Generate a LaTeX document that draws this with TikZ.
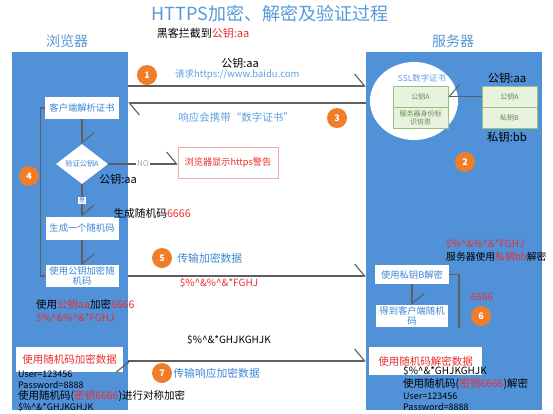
\documentclass[tikz,border=0pt]{standalone}
\usepackage{fontspec}
\setmainfont{Noto Sans CJK SC}
\usepackage{tikz}
\usetikzlibrary{arrows.meta, shapes.geometric, positioning, fit}
\usepackage{xcolor}
\definecolor{panelblue}{RGB}{80,145,215}
\definecolor{titleblue}{RGB}{88,152,214}
\definecolor{boxblue}{RGB}{60,135,210}
\definecolor{laneblue}{RGB}{95,160,220}
\definecolor{alert}{RGB}{235,45,45}
\definecolor{numorange}{RGB}{240,125,40}
\definecolor{linegray}{RGB}{95,95,95}
\definecolor{cellgreen}{RGB}{150,195,120}
\definecolor{cellfill}{RGB}{232,242,222}
\definecolor{celltext}{RGB}{95,140,85}
\definecolor{warnline}{RGB}{240,170,170}
\definecolor{nogray}{RGB}{140,175,205}
\newcommand\fsz[1]{\fontsize{#1}{#1}\selectfont}
\newcommand\cipherone{\$\%\textasciicircum\&\%\textasciicircum\&*FGHJ}
\newcommand\ciphertwo{\$\%\textasciicircum\&*GHJKGHJK}

\begin{document}
\begin{tikzpicture}[x=1pt, y=-1pt,
  panel/.style={fill=panelblue, inner sep=0pt},
  stepbox/.style={fill=white, text=boxblue, font=\fontsize{9.3}{10.5}\selectfont, align=center, inner sep=1pt},
  databox/.style={fill=white, text=alert, font=\fsz{10.5}, inner sep=1pt},
  keycell/.style={draw=cellgreen, fill=cellfill, text=celltext, font=\fontsize{7}{8}\selectfont, align=center, minimum width=55pt, minimum height=21pt, inner sep=0pt},
  num/.style={circle, fill=numorange, text=white, font=\bfseries\fsz{9}, minimum size=20pt, inner sep=0pt},
  link/.style={draw=linegray, line width=1.1pt, -{Straight Barb[harpoon, length=10pt, width=24pt]}},
  note/.style={font=\fsz{10.5}, inner sep=0pt},
  cipher/.style={font=\fsz{10}, text=alert, inner sep=0pt},
  lane/.style={font=\fsz{10.8}, text=boxblue, inner sep=0pt}
]
  \useasboundingbox (0,0) rectangle (553,413);

  \node[font=\fsz{18}, text=titleblue] (title) at (270,14) {HTTPS加密、解密及验证过程};
  \node[font=\fsz{11}] (hacker) at (203,33) {黑客拦截到\textcolor{alert}{公钥:aa}};
  \node[font=\fsz{14}, text=titleblue] (bhead) at (67,41) {浏览器};
  \node[font=\fsz{14}, text=titleblue] (shead) at (453,41) {服务器};

  \node[panel, fit={(12,52) (128,410)}] (browser) {};
  \node[panel, fit={(366,52) (542,410)}] (server) {};

  \node[stepbox, minimum width=74pt, minimum height=22pt] (parse) at (82,108) {客户端解析证书};
  \node[diamond, fill=white, text=boxblue, font=\fsz{7.2}, minimum width=52pt, minimum height=38pt, inner sep=0pt] (verify) at (82,164) {验证公钥A};
  \node[stepbox, minimum width=73pt, minimum height=23pt] (genkey) at (82,228) {生成一个随机码};
  \node[stepbox, minimum width=73pt, minimum height=21pt] (encrypt) at (82,276) {使用公钥加密随\\机码};
  \node[num] (n4) at (29,176) {4};
  \node[draw=warnline, fill=white, text=alert, font=\fsz{9.2}, minimum width=100pt, minimum height=31pt] (warn) at (228,162.5) {浏览器显示https警告};
  \node[font=\fsz{11}] (midpub) at (118,179) {公钥:aa};
  \node[font=\fsz{10.7}, anchor=west] (genval) at (110,213) {生成随机码\textcolor{alert}{6666}};
  \node[note, anchor=west] (encnote) at (36,304) {使用\textcolor{alert}{公钥aa}加密\textcolor{alert}{6666}};
  \node[cipher, anchor=west] (enccipher) at (36,318) {\cipherone};
  \node[databox, minimum width=107pt, minimum height=25pt] (encdata) at (69.5,359.5) {使用随机码加密数据};
  \node[note, anchor=west, font=\fsz{9}] (buser) at (18,374) {User=123456};
  \node[note, anchor=west, font=\fsz{9}] (bpass) at (18,385) {Password=8888};
  \node[note, anchor=west] (bsym) at (18,396) {使用随机码(\textcolor{alert}{密钥6666})进行对称加密};
  \node[note, anchor=west, font=\fsz{9}] (bcipher) at (18,407) {\ciphertwo};

  \node[num] (n1) at (147,75) {1};
  \node[font=\fsz{11}] (toppub) at (240,63) {公钥:aa};
  \node[lane, font=\fsz{9.5}, text=laneblue, anchor=west] (req) at (175,75) {请求https://www.baidu.com};
  \node[num] (n3) at (337,118) {3};
  \node[lane, font=\fsz{10.5}, text=laneblue] (resp) at (236,117) {响应会携带“数字证书”};
  \node[num] (n5) at (162,258) {5};
  \node[lane, right=5pt of n5] (send) {传输加密数据};
  \node[cipher] (sendcipher) at (219,283) {\cipherone};
  \node[font=\fsz{10}] (replycipher) at (229,340) {\ciphertwo};
  \node[num] (n7) at (162,373) {7};
  \node[lane, right=1pt of n7] (reply) {传输响应加密数据};

  \node[ellipse, fill=white, minimum width=88pt, minimum height=78pt, inner sep=0pt] (cert) at (414,101) {};
  \node[font=\fsz{8.4}, text=laneblue] (ssl) at (422,78) {SSL数字证书};
  \node[keycell] (certpub) at (420.5,96.5) {公钥A};
  \node[keycell, below=0pt of certpub] (certid) {服务器身份标\\识信息};
  \node[keycell] (keypub) at (509.5,96.5) {公钥A};
  \node[keycell, below=0pt of keypub] (keypriv) {私钥B};
  \node[font=\fsz{11.3}] (pubaa) at (507,78) {公钥:aa};
  \node[font=\fsz{11.3}] (privbb) at (507,137) {私钥:bb};
  \node[num] (n2) at (465,162) {2};
  \node[cipher, anchor=west] (srvcipher) at (446,244) {\cipherone};
  \node[note, anchor=west, font=\fsz{9.8}] (srvdec) at (446,257) {服务器使用\textcolor{alert}{私钥bb}解密};
  \node[stepbox, minimum width=74pt, minimum height=19pt] (decpriv) at (412,274.5) {使用私钥B解密};
  \node[stepbox, minimum width=72pt, minimum height=22pt] (getkey) at (412,316) {得到客户端随机\\码};
  \coordinate (loopend) at (459,328);
  \node[font=\fsz{10}, text=alert] (keyval) at (482,297) {6666};
  \node[num] (n6) at (481,316) {6};
  \node[databox, minimum width=113pt, minimum height=28pt] (decrypt) at (425.5,361) {使用随机码解密数据};
  \node[note, anchor=west, font=\fsz{10}] (scipher) at (403,371) {\ciphertwo};
  \node[note, anchor=west] (ssym) at (403,384) {使用随机码(\textcolor{alert}{密钥6666})解密};
  \node[note, anchor=west, font=\fsz{9}] (suser) at (403,396) {User=123456};
  \node[note, anchor=west, font=\fsz{9}] (spass) at (403,407) {Password=8888};

  \draw[draw=linegray, line width=1.1pt] (parse.west) -- ++(-4,0) |- (encrypt.west);
  \draw[draw=linegray, line width=1.1pt] (decpriv.east) -- (decpriv.east -| loopend) -- (loopend);

  \path[link]
    (parse) edge (verify)
    (verify) edge node[fill=white, text=boxblue, font=\fsz{6}, inner sep=1pt] (yes) {是} (genkey)
    (genkey) edge (encrypt)
    (verify.east) edge node[fill=white, text=nogray, font=\fsz{8}, inner sep=1pt] (no) {NO} (verify.east -| warn.west)
    (browser.east |- 0,86) edge (server.west |- 0,86)
    (server.west |- 0,103) edge (browser.east |- 0,103)
    (browser.east |- encrypt) edge (server.west |- encrypt)
    (browser.east |- decrypt) edge (server.west |- decrypt)
    (keypub) edge[-{Straight Barb[harpoon, swap, length=10pt, width=24pt]}] (certpub)
    (decpriv) edge (getkey)
    ;

\end{tikzpicture}
\end{document}
